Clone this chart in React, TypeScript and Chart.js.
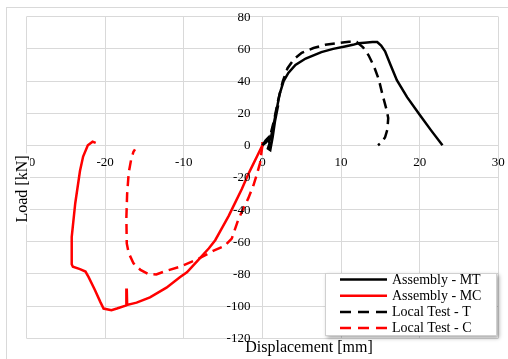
import React, { useEffect, useRef } from 'react';
import { Chart, registerables } from 'chart.js';

Chart.register(...registerables);

// ---- Data ----
const xMin = -30;
const xMax = 30;
const xStep = 10;
const yMin = -120;
const yMax = 80;
const yStep = 20;

const mtX = [0, 0.4, 0.8, 0.9, 0.7, 1.0, 1.3, 1.6, 2.0, 1.4, 1.0, 1.3, 1.8, 2.2, 2.7, 3.3, 4.2, 5.5, 7.5, 9.0, 10.5, 11.5, 12.2, 13.0, 14.0, 14.6, 15.1, 15.6, 16.3, 17.1, 18.4, 20.0, 21.5, 22.9];
const mtY = [0, 3, 5, 1, -2, -3, 5, 15, 25, 12, 3, 10, 22, 32, 40, 45, 50, 54, 58, 60, 61.5, 62.5, 63.5, 63.8, 64.2, 64.2, 62, 58.5, 50, 40.5, 30, 19, 9, 0];

const mcX = [0, 0, -0.6, -1.2, -1.8, -2.6, -3.4, -4.3, -5.2, -6.0, -6.8, -8.2, -9.6, -10.5, -12.2, -14.3, -16.0, -17.2, -17.25, -17.3, -18.5, -19.2, -20.2, -20.6, -21.3, -22.1, -22.5, -23.2, -24.1, -24.25, -24.25, -23.8, -23.2, -22.8, -22.2, -21.6, -21.2];
const mcY = [2, 0, -6, -12, -18, -27, -35, -44, -52, -59, -64, -71.5, -79, -82, -88.5, -94.5, -97.8, -99.3, -89, -99.5, -101.5, -102.5, -101.5, -97.5, -90, -82, -78.5, -77, -75.5, -74, -57, -36, -16, -7, 0, 2.3, 1.5];

const ltX = [0, 0.5, 1.0, 1.5, 2.0, 2.6, 3.2, 4.0, 5.0, 6.5, 8.0, 9.5, 11.0, 12.0, 12.8, 13.5, 14.2, 14.8, 15.3, 15.8, 16.0, 15.9, 15.6, 15.2, 14.7];
const ltY = [0, 2, 6, 16, 28, 40, 48, 53.5, 57.5, 60.5, 62.5, 63.5, 64.4, 64.2, 61, 56, 49, 41, 31, 22, 17, 10, 5, 2, 0];

const lcX = [0, -0.3, -0.7, -1.15, -1.8, -2.4, -3.05, -3.9, -4.8, -6.2, -8.3, -10.5, -12.5, -13.5, -14.5, -15.5, -16.4, -17.0, -17.25, -17.3, -17.2, -17.0, -16.7, -16.4, -16.2];
const lcY = [0, -11, -18, -25, -33, -39, -46, -58, -62.5, -65.5, -71, -75.5, -78.5, -80.3, -80, -77.5, -73.3, -67, -61, -45, -30, -17, -9, -4, -2.5];

const seriesLabels = ['Assembly - MT', 'Assembly - MC', 'Local Test - T', 'Local Test - C'];
const seriesX = [mtX, mcX, ltX, lcX];
const seriesY = [mtY, mcY, ltY, lcY];
const seriesColors = ['#000000', '#ff0000', '#000000', '#ff0000'];
const seriesDashed = [false, false, true, true];

const xTitle = 'Displacement [mm]';
const yTitle = 'Load [kN]';

const FONT = "'Liberation Serif', 'Times New Roman', serif";
const DASH = [10, 6];

Chart.defaults.font.family = FONT;

const zeroFit = (s: any) => {
  if (s.isHorizontal()) s.height = 0; else s.width = 0;
  s.paddingTop = 0;
  s.paddingBottom = 0;
  s.paddingLeft = 0;
  s.paddingRight = 0;
};

const decorPlugin = {
  id: 'decor',
  beforeDraw(chart: any) {
    const ctx = chart.ctx;
    ctx.save();
    ctx.fillStyle = '#ffffff';
    ctx.fillRect(0, 0, chart.width, chart.height);
    ctx.strokeStyle = '#d9d9d9';
    ctx.lineWidth = 1;
    ctx.strokeRect(6.5, 7.5, chart.width + 10, chart.height + 10);
    ctx.restore();
  },
  afterDraw(chart: any) {
    const ctx = chart.ctx;
    const xs = chart.scales.x;
    const ys = chart.scales.y;

    // y tick labels, placed left of the x = 0 axis line
    ctx.save();
    ctx.font = `13px ${FONT}`;
    ctx.fillStyle = '#000000';
    ctx.textAlign = 'right';
    ctx.textBaseline = 'middle';
    const ax = xs.getPixelForValue(0);
    ys.ticks.forEach((t: any) => {
      ctx.fillText(String(t.label ?? t.value), ax - 12, ys.getPixelForValue(t.value) + 0.5);
    });
    ctx.restore();

    // y title with white box
    ctx.save();
    ctx.font = `16px ${FONT}`;
    const yw = ctx.measureText(yTitle).width;
    const ycx = 23;
    const ycy = 189;
    ctx.fillStyle = '#ffffff';
    ctx.fillRect(ycx - 8, ycy - yw / 2 - 2, 15, yw + 4);
    ctx.translate(ycx, ycy);
    ctx.rotate(-Math.PI / 2);
    ctx.fillStyle = '#000000';
    ctx.textAlign = 'center';
    ctx.textBaseline = 'middle';
    ctx.fillText(yTitle, 0, 0);
    ctx.restore();

    // x title
    ctx.save();
    ctx.font = `16px ${FONT}`;
    ctx.fillStyle = '#000000';
    ctx.textAlign = 'center';
    ctx.textBaseline = 'middle';
    ctx.fillText(xTitle, 309, 348);
    ctx.restore();

    // legend
    const lx = 325, ly = 273, lw = 172, lh = 63;
    ctx.save();
    ctx.shadowColor = 'rgba(0,0,0,0.35)';
    ctx.shadowBlur = 4;
    ctx.shadowOffsetX = 2;
    ctx.shadowOffsetY = 2;
    ctx.fillStyle = '#ffffff';
    ctx.fillRect(lx, ly, lw, lh);
    ctx.restore();
    ctx.save();
    ctx.strokeStyle = '#d0d0d0';
    ctx.lineWidth = 1;
    ctx.strokeRect(lx + 0.5, ly + 0.5, lw - 1, lh - 1);
    ctx.font = `14px ${FONT}`;
    ctx.textBaseline = 'middle';
    ctx.textAlign = 'left';
    chart.data.datasets.forEach((ds: any, i: number) => {
      const y = 279.5 + i * 16.2;
      ctx.beginPath();
      ctx.strokeStyle = ds.borderColor;
      ctx.lineWidth = 2.5;
      ctx.setLineDash(ds.borderDash && ds.borderDash.length ? [11, 7] : []);
      ctx.moveTo(340, y);
      ctx.lineTo(387, y);
      ctx.stroke();
      ctx.setLineDash([]);
      ctx.fillStyle = '#000000';
      ctx.fillText(ds.label, 392, y + 0.5);
    });
    ctx.restore();
  },
};

export default function App() {
  const ref = useRef<HTMLCanvasElement>(null);
  useEffect(() => {
    document.body.style.margin = '0';
    const canvas = ref.current!;
    const datasets = seriesLabels.map((label, i) => ({
      label,
      data: seriesX[i].map((x, j) => ({ x, y: seriesY[i][j] })),
      borderColor: seriesColors[i],
      backgroundColor: seriesColors[i],
      borderWidth: 2.5,
      borderDash: seriesDashed[i] ? DASH : [],
      showLine: true,
      pointRadius: 0,
      pointHoverRadius: 0,
      tension: 0,
      fill: false,
    }));
    const tickFont = { family: FONT, size: 13 };
    const chart = new Chart(canvas, {
      type: 'scatter',
      data: { datasets },
      options: {
        responsive: false,
        animation: false,
        devicePixelRatio: 1,
        layout: { padding: { left: 26.5, top: 16.7, right: 9.7, bottom: 20.7 } },
        plugins: { legend: { display: false }, tooltip: { enabled: false } },
        scales: {
          x: {
            type: 'linear',
            min: xMin,
            max: xMax,
            position: { y: 0 } as any,
            afterFit: zeroFit,
            border: { display: false },
            grid: { color: '#d9d9d9', lineWidth: 1, drawTicks: false },
            ticks: { stepSize: xStep, autoSkip: false, padding: 9, color: '#000', font: tickFont, maxRotation: 0 },
          },
          y: {
            type: 'linear',
            min: yMin,
            max: yMax,
            position: { x: 0 } as any,
            afterFit: zeroFit,
            border: { display: false },
            grid: { color: '#d9d9d9', lineWidth: 1, drawTicks: false },
            ticks: { stepSize: yStep, autoSkip: false, display: false, font: tickFont },
          },
        },
      },
      plugins: [decorPlugin],
    });
    return () => chart.destroy();
  }, []);
  return (
    <div style={{ position: 'fixed', left: 0, top: 0, width: 508, height: 359 }}>
      <canvas ref={ref} width={508} height={359} style={{ display: 'block' }} />
    </div>
  );
}
